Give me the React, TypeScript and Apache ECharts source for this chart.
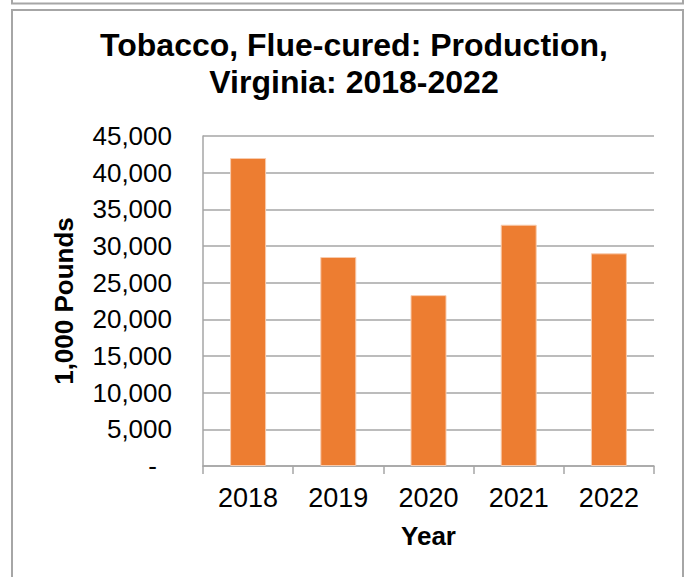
import React, { useEffect, useRef } from "react";
import * as echarts from "echarts";

const years = ["2018", "2019", "2020", "2021", "2022"];
const production = [42000, 28500, 23300, 32900, 29000];
const titleLines = ["Tobacco, Flue-cured: Production,", "Virginia: 2018-2022"];
const yAxisTitle = "1,000 Pounds";
const xAxisTitle = "Year";

const FONT = "'Liberation Sans', Arial, sans-serif";
const GRAY = "#A6A6A6";

export default function App() {
  const ref = useRef<HTMLDivElement>(null);
  useEffect(() => {
    if (!ref.current) return;
    const chart = echarts.init(ref.current, undefined, { renderer: "svg" });
    chart.setOption({
      animation: false,
      backgroundColor: "#ffffff",
      title: {
        text: titleLines.join("\n"),
        left: 349,
        textAlign: "center",
        top: 21,
        textStyle: {
          fontFamily: FONT,
          fontSize: 32,
          fontWeight: "bold",
          color: "#000000",
          lineHeight: 37,
        },
      },
      graphic: [
        {
          type: "polyline",
          shape: { points: [[12, 0], [12, 3.5], [683, 3.5], [683, 0]] },
          style: { stroke: GRAY, lineWidth: 2, fill: "none" },
        },
        {
          type: "rect",
          shape: { x: 12, y: 10, width: 671, height: 600 },
          style: { stroke: GRAY, lineWidth: 2, fill: "none" },
          silent: true,
        },
      ],
      grid: { left: 203, top: 136, width: 451, height: 330 },
      xAxis: {
        type: "category",
        data: years,
        name: xAxisTitle,
        nameLocation: "middle",
        nameGap: 57,
        nameTextStyle: { fontFamily: FONT, fontSize: 26, fontWeight: "bold", color: "#000" },
        axisLine: { show: true, lineStyle: { color: GRAY, width: 1.5 } },
        axisTick: { show: true, alignWithLabel: false, length: 8, lineStyle: { color: GRAY, width: 1.5 } },
        axisLabel: { fontFamily: FONT, fontSize: 27, color: "#000", margin: 18 },
      },
      yAxis: {
        type: "value",
        min: 0,
        max: 45000,
        interval: 5000,
        name: yAxisTitle,
        nameLocation: "middle",
        nameGap: 126,
        nameTextStyle: { fontFamily: FONT, fontSize: 26, fontWeight: "bold", color: "#000" },
        axisLine: { show: true, lineStyle: { color: GRAY, width: 1.5 } },
        axisTick: { show: false },
        splitLine: { show: true, lineStyle: { color: GRAY, width: 1.5 } },
        axisLabel: {
          fontFamily: FONT,
          fontSize: 26,
          color: "#000",
          margin: 31,
          formatter: (v: number) =>
            v === 0 ? "{d|-}" : v.toLocaleString("en-US"),
          rich: {
            d: { fontFamily: FONT, fontSize: 26, color: "#000", padding: [0, 15, 0, 0] },
          },
        },
      },
      series: [
        {
          type: "bar",
          data: production,
          barWidth: 36,
          itemStyle: { color: "#ED7D31", borderColor: "#F8CBAD", borderWidth: 1 },
        },
      ],
    });
    return () => chart.dispose();
  }, []);
  return (
    <div
      ref={ref}
      style={{ position: "absolute", left: 0, top: 0, width: 689, height: 577 }}
    />
  );
}
